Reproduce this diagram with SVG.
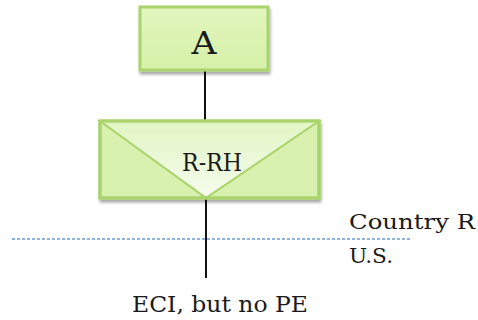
<svg xmlns="http://www.w3.org/2000/svg" width="478" height="320" viewBox="0 0 478 320">
<defs>
<linearGradient id="gA" x1="0" y1="0" x2="0" y2="1">
<stop offset="0" stop-color="#e2f6be"/>
<stop offset="1" stop-color="#d6f0a8"/>
</linearGradient>
<linearGradient id="gB" x1="0" y1="0" x2="0" y2="1">
<stop offset="0" stop-color="#e2f6c4"/>
<stop offset="1" stop-color="#f5fbec"/>
</linearGradient>
<filter id="sh" x="-10%" y="-10%" width="130%" height="140%">
<feGaussianBlur in="SourceAlpha" stdDeviation="1.5"/>
<feOffset dx="1" dy="3" result="b"/>
<feComponentTransfer><feFuncA type="linear" slope="0.35"/></feComponentTransfer>
<feMerge><feMergeNode/><feMergeNode in="SourceGraphic"/></feMerge>
</filter>
</defs>
<style>
.box{stroke:#a9d36c;stroke-width:3}
.t{font-family:"DejaVu Serif","Liberation Serif",serif;fill:#1a1a1a}
.ln{stroke:#111;stroke-width:2;fill:none}
</style>
<g id="connectors">
<line class="ln" x1="205" y1="70" x2="205" y2="122"/>
<line class="ln" x1="206" y1="198" x2="206" y2="278"/>
<line x1="12" y1="239" x2="412" y2="239" stroke="#6b9bd6" stroke-width="1.3" stroke-dasharray="3,2"/>
</g>
<g id="nodeA">
<rect class="box" x="140" y="7" width="128" height="63" fill="url(#gA)" filter="url(#sh)"/>
<text class="t" x="204" y="54" font-size="31" text-anchor="middle" textLength="25" lengthAdjust="spacingAndGlyphs">A</text>
</g>
<g id="nodeRRH">
<rect class="box" x="100" y="121" width="219" height="77" fill="#d8f1ae" filter="url(#sh)"/>
<polygon points="101.5,122.5 317.5,122.5 206,196.5" fill="url(#gB)"/>
<polygon points="100,121 319,121 206,198" fill="none" stroke="#a9d36c" stroke-width="2"/>
<rect x="100" y="121" width="219" height="77" fill="none" class="box"/>
<text class="t" x="212" y="171" font-size="24" text-anchor="middle" textLength="60" lengthAdjust="spacingAndGlyphs">R-RH</text>
</g>
<g id="labels">
<text class="t" x="349" y="229" font-size="21" textLength="126" lengthAdjust="spacingAndGlyphs">Country R</text>
<text class="t" x="349" y="263" font-size="21" textLength="44" lengthAdjust="spacingAndGlyphs">U.S.</text>
<text class="t" x="132" y="312" font-size="23" textLength="176" lengthAdjust="spacingAndGlyphs">ECI, but no PE</text>
</g>
</svg>
